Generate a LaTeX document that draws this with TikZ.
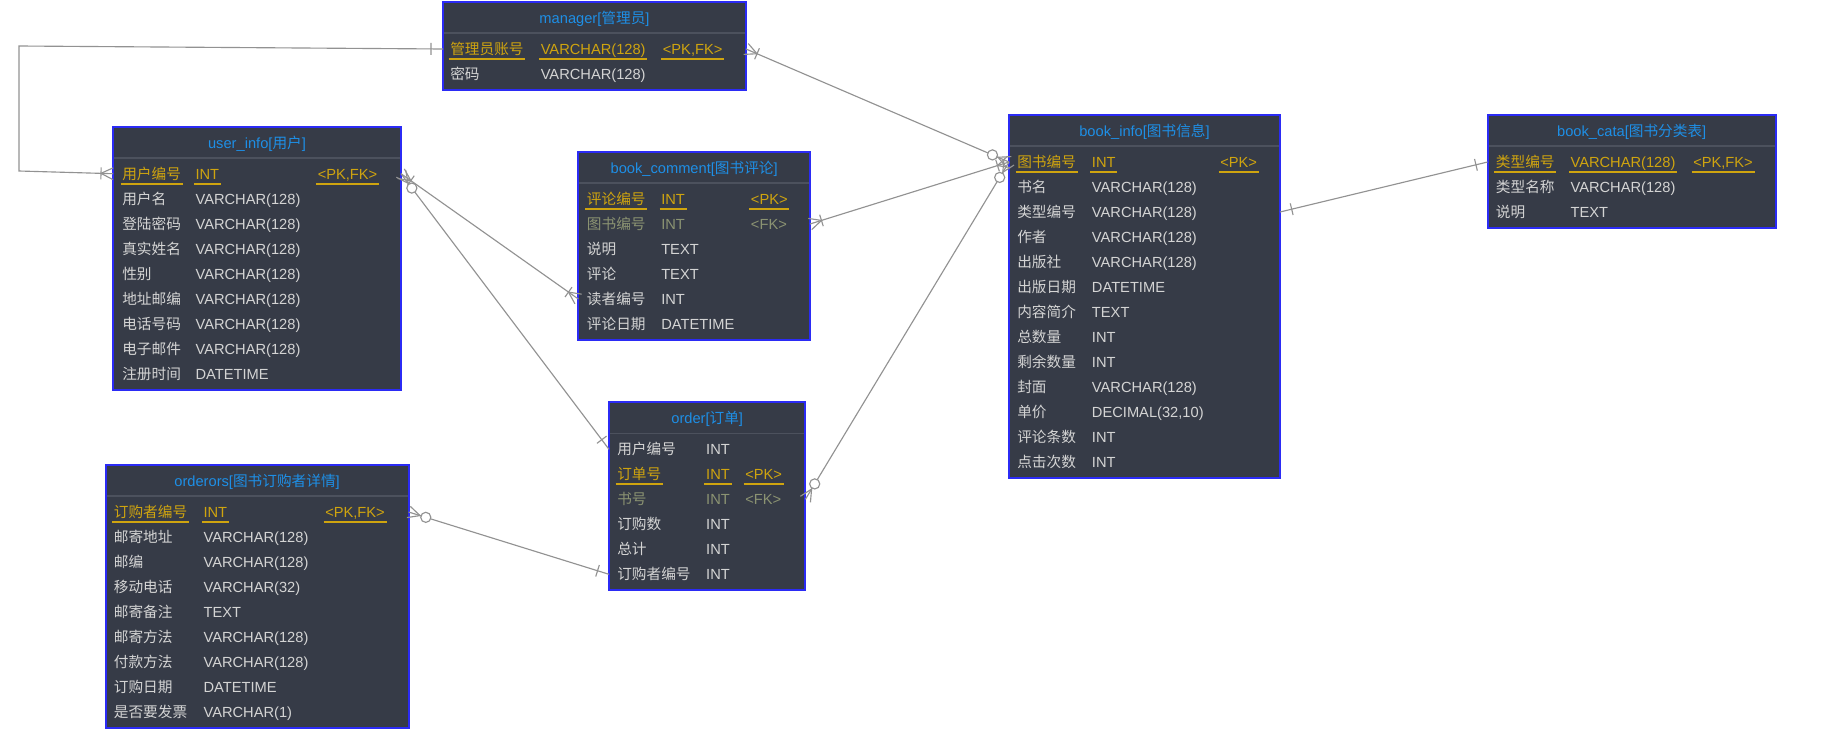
\documentclass[tikz,border=0pt]{standalone}
\usepackage{fontspec}
\setmainfont{Liberation Sans}
\newfontfamily\cjk{Noto Sans CJK SC}
\usetikzlibrary{calc}
\definecolor{tblbg}{HTML}{363B47}
\definecolor{tblborder}{HTML}{2B2BF5}
\definecolor{ttlblue}{HTML}{1E8FE6}
\definecolor{sepgray}{HTML}{4C515D}
\definecolor{txtgray}{HTML}{D4D4D4}
\definecolor{pkgold}{HTML}{CFA40F}
\definecolor{fkolive}{HTML}{8B9372}
\definecolor{conngray}{HTML}{929292}
\newcommand\rowfont{\fontsize{11}{13}\selectfont}
\tikzset{
  tblbox/.style={draw=tblborder, fill=tblbg, line width=1.5pt, anchor=north west, inner sep=0pt, outer sep=0pt},
  ttl/.style={anchor=base, inner sep=0pt, text=ttlblue, font=\rowfont},
  sepline/.style={draw=sepgray, line width=1.2pt},
  rowtxt/.style={anchor=base west, inner sep=0pt, text=txtgray, font=\rowfont},
  pk/.style={rowtxt, text=pkgold},
  fk/.style={rowtxt, text=fkolive},
  pkul/.style={draw=pkgold, line width=1.3pt},
  conn/.style={draw=conngray, line width=0.85pt},
}
\newcommand\ertable[6]{%
  \pgfmathsetmacro\erh{(38+25*#5)*0.75}%
  \pgfmathsetmacro\erw{#4*0.75}%
  \pgfmathsetmacro\ercx{#2+#4/2}%
  \node[tblbox, minimum width=\erw pt, minimum height=\erh pt] (#1) at (#2,#3) {};
  \node[ttl] (#1-t) at (\ercx,#3+21.5) {#6};
  \draw[sepline] (#2+1,#3+31) -- (#2+#4-1,#3+31);
  \def\ty{#3}}
\newcommand\ercols[3]{\def\ca{#1}\def\cb{#2}\def\cc{#3}}
\newcommand\errow[6]{%
  \pgfmathsetmacro\ry{\ty+47+25*(#2-1)}%
  \coordinate (#1-#2) at (\ca,\ry);
  \node[#3] (#1-#2a) at (\ca,\ry+5.5) {#4};
  \node[#3] (#1-#2b) at (\cb,\ry+5.5) {#5};
  \def\erkey{#6}\ifx\erkey\empty\else\node[#3] (#1-#2c) at (\cc,\ry+5.5) {#6};\fi}
\newcommand\erul[1]{\draw[pkul] ([shift={(-1.5,4.5)}]#1.base west) -- ([shift={(1.5,4.5)}]#1.base east);}
\newcommand\erpk[5]{\errow{#1}{#2}{pk}{#3}{#4}{#5}\erul{#1-#2a}\erul{#1-#2b}\erul{#1-#2c}}
\newcommand\mkbar[2]{%
  \coordinate (mP) at ($(#1)!9pt!(#2)$);
  \draw[conn] ($(mP)!4.5pt!90:(#2)$) -- ($(mP)!4.5pt!-90:(#2)$);}
\newcommand\mkcrow[2]{%
  \coordinate (mV) at ($(#1)!9pt!(#2)$);
  \draw[conn] ($(#1)!4.4pt!90:(#2)$) -- (mV) -- ($(#1)!4.4pt!-90:(#2)$);}
\newcommand\mkcirc[2]{%
  \draw[conn, fill=white] ($(#1)!13.5pt!(#2)$) circle[radius=3.8pt];}
\begin{document}
\begin{tikzpicture}[x=0.75pt,y=-0.75pt]
\useasboundingbox (0,0) rectangle (1838,747);
\fill[white] (0,0) rectangle (1838,747);

% manager
\ertable{mg}{443}{2}{303}{2}{manager[{\cjk 管理员}]}
\ercols{450}{540.5}{662.6}
\erpk{mg}{1}{{\cjk 管理员账号}}{VARCHAR(128)}{<PK,FK>}
\errow{mg}{2}{rowtxt}{{\cjk 密码}}{VARCHAR(128)}{}

% user_info
\ertable{ui}{113}{126.7}{288}{9}{user\_info[{\cjk 用户}]}
\ercols{122}{195.3}{317.5}
\erpk{ui}{1}{{\cjk 用户编号}}{INT}{<PK,FK>}
\errow{ui}{2}{rowtxt}{{\cjk 用户名}}{VARCHAR(128)}{}
\errow{ui}{3}{rowtxt}{{\cjk 登陆密码}}{VARCHAR(128)}{}
\errow{ui}{4}{rowtxt}{{\cjk 真实姓名}}{VARCHAR(128)}{}
\errow{ui}{5}{rowtxt}{{\cjk 性别}}{VARCHAR(128)}{}
\errow{ui}{6}{rowtxt}{{\cjk 地址邮编}}{VARCHAR(128)}{}
\errow{ui}{7}{rowtxt}{{\cjk 电话号码}}{VARCHAR(128)}{}
\errow{ui}{8}{rowtxt}{{\cjk 电子邮件}}{VARCHAR(128)}{}
\errow{ui}{9}{rowtxt}{{\cjk 注册时间}}{DATETIME}{}

% book_comment
\ertable{bc}{578.3}{152}{231.7}{6}{book\_comment[{\cjk 图书评论}]}
\ercols{586.7}{661}{750.7}
\erpk{bc}{1}{{\cjk 评论编号}}{INT}{<PK>}
\errow{bc}{2}{fk}{{\cjk 图书编号}}{INT}{<FK>}
\errow{bc}{3}{rowtxt}{{\cjk 说明}}{TEXT}{}
\errow{bc}{4}{rowtxt}{{\cjk 评论}}{TEXT}{}
\errow{bc}{5}{rowtxt}{{\cjk 读者编号}}{INT}{}
\errow{bc}{6}{rowtxt}{{\cjk 评论日期}}{DATETIME}{}

% order
\ertable{od}{609}{402.3}{196.4}{6}{order[{\cjk 订单}]}
\ercols{617}{705.9}{745}
\errow{od}{1}{rowtxt}{{\cjk 用户编号}}{INT}{}
\erpk{od}{2}{{\cjk 订单号}}{INT}{<PK>}
\errow{od}{3}{fk}{{\cjk 书号}}{INT}{<FK>}
\errow{od}{4}{rowtxt}{{\cjk 订购数}}{INT}{}
\errow{od}{5}{rowtxt}{{\cjk 总计}}{INT}{}
\errow{od}{6}{rowtxt}{{\cjk 订购者编号}}{INT}{}

% orderors
\ertable{os}{105.6}{465}{303}{9}{orderors[{\cjk 图书订购者详情}]}
\ercols{113.6}{203.3}{325}
\erpk{os}{1}{{\cjk 订购者编号}}{INT}{<PK,FK>}
\errow{os}{2}{rowtxt}{{\cjk 邮寄地址}}{VARCHAR(128)}{}
\errow{os}{3}{rowtxt}{{\cjk 邮编}}{VARCHAR(128)}{}
\errow{os}{4}{rowtxt}{{\cjk 移动电话}}{VARCHAR(32)}{}
\errow{os}{5}{rowtxt}{{\cjk 邮寄备注}}{TEXT}{}
\errow{os}{6}{rowtxt}{{\cjk 邮寄方法}}{VARCHAR(128)}{}
\errow{os}{7}{rowtxt}{{\cjk 付款方法}}{VARCHAR(128)}{}
\errow{os}{8}{rowtxt}{{\cjk 订购日期}}{DATETIME}{}
\errow{os}{9}{rowtxt}{{\cjk 是否要发票}}{VARCHAR(1)}{}

% book_info
\ertable{bi}{1009}{115}{271}{13}{book\_info[{\cjk 图书信息}]}
\ercols{1017}{1091.7}{1220}
\erpk{bi}{1}{{\cjk 图书编号}}{INT}{<PK>}
\errow{bi}{2}{rowtxt}{{\cjk 书名}}{VARCHAR(128)}{}
\errow{bi}{3}{rowtxt}{{\cjk 类型编号}}{VARCHAR(128)}{}
\errow{bi}{4}{rowtxt}{{\cjk 作者}}{VARCHAR(128)}{}
\errow{bi}{5}{rowtxt}{{\cjk 出版社}}{VARCHAR(128)}{}
\errow{bi}{6}{rowtxt}{{\cjk 出版日期}}{DATETIME}{}
\errow{bi}{7}{rowtxt}{{\cjk 内容简介}}{TEXT}{}
\errow{bi}{8}{rowtxt}{{\cjk 总数量}}{INT}{}
\errow{bi}{9}{rowtxt}{{\cjk 剩余数量}}{INT}{}
\errow{bi}{10}{rowtxt}{{\cjk 封面}}{VARCHAR(128)}{}
\errow{bi}{11}{rowtxt}{{\cjk 单价}}{DECIMAL(32,10)}{}
\errow{bi}{12}{rowtxt}{{\cjk 评论条数}}{INT}{}
\errow{bi}{13}{rowtxt}{{\cjk 点击次数}}{INT}{}

% book_cata
\ertable{bk}{1487.6}{115}{288.2}{3}{book\_cata[{\cjk 图书分类表}]}
\ercols{1495.7}{1570.3}{1693}
\erpk{bk}{1}{{\cjk 类型编号}}{VARCHAR(128)}{<PK,FK>}
\errow{bk}{2}{rowtxt}{{\cjk 类型名称}}{VARCHAR(128)}{}
\errow{bk}{3}{rowtxt}{{\cjk 说明}}{TEXT}{}

% connector end points
\coordinate (mgL) at (mg.west |- mg-1);
\coordinate (mgR) at (mg.east |- mg-1);
\coordinate (uiL) at (ui.west |- ui-1);
\coordinate (uiR) at (ui.east |- ui-1);
\coordinate (bcR) at (bc.east |- bc-2);
\coordinate (bcL) at (bc.west |- bc-5);
\coordinate (odL1) at (od.west |- od-1);
\coordinate (odR) at (od.east |- od-3);
\coordinate (odL6) at (od.west |- od-6);
\coordinate (osR) at (os.east |- os-1);
\coordinate (biL) at (bi.west |- bi-1);
\coordinate (biR) at (bi.east |- bi-3);
\coordinate (bkL) at (bk.west |- bk-1);
\coordinate (c1) at (19,46);
\coordinate (c2) at (19,171);

% connectors
\draw[conn] (mgL) -- (c1) -- (c2) -- (uiL);
\mkbar{mgL}{c1}
\mkbar{uiL}{c2}\mkcrow{uiL}{c2}

\draw[conn] (mgR) -- (biL);
\mkbar{mgR}{biL}\mkcrow{mgR}{biL}
\mkcirc{biL}{mgR}\mkcrow{biL}{mgR}

\draw[conn] (bcR) -- (biL);
\mkbar{bcR}{biL}\mkcrow{bcR}{biL}
\mkbar{biL}{bcR}\mkcrow{biL}{bcR}

\draw[conn] (uiR) -- (bcL);
\mkbar{uiR}{bcL}\mkcrow{uiR}{bcL}
\mkbar{bcL}{uiR}\mkcrow{bcL}{uiR}

\draw[conn] (uiR) -- (odL1);
\mkcirc{uiR}{odL1}\mkcrow{uiR}{odL1}
\mkbar{odL1}{uiR}

\draw[conn] (odR) -- (biL);
\mkcirc{odR}{biL}\mkcrow{odR}{biL}
\mkcirc{biL}{odR}\mkcrow{biL}{odR}

\draw[conn] (osR) -- (odL6);
\mkcirc{osR}{odL6}\mkcrow{osR}{odL6}
\mkbar{odL6}{osR}

\draw[conn] (biR) -- (bkL);
\mkbar{biR}{bkL}
\mkbar{bkL}{biR}
\end{tikzpicture}
\end{document}
